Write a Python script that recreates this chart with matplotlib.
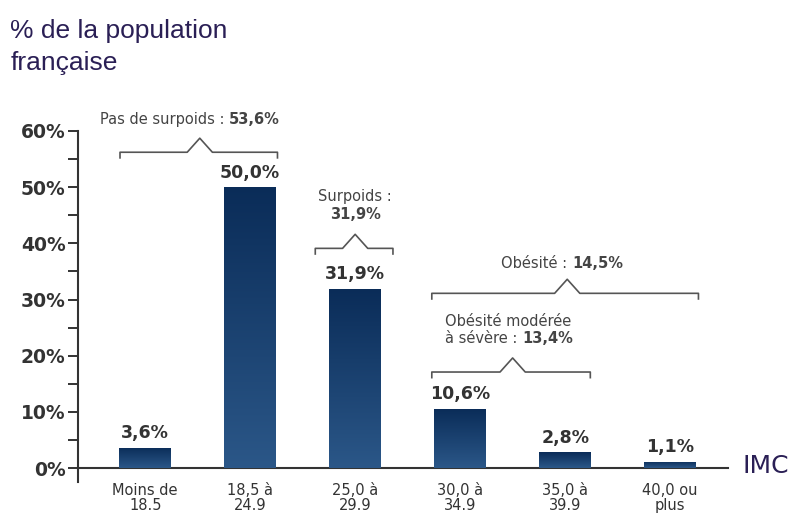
import numpy as np
import matplotlib
matplotlib.use("Agg")
import matplotlib.pyplot as plt
from matplotlib.colors import LinearSegmentedColormap

# IMC distribution, % de la population française
categories = ["Moins de\n18.5", "18,5 à\n24.9", "25,0 à\n29.9", "30,0 à\n34.9", "35,0 à\n39.9", "40,0 ou\nplus"]
values = [3.6, 50.0, 31.9, 10.6, 2.8, 1.1]
value_labels = ["3,6%", "50,0%", "31,9%", "10,6%", "2,8%", "1,1%"]
y_ticks = [0, 10, 20, 30, 40, 50, 60]
y_tick_labels = ["0%", "10%", "20%", "30%", "40%", "50%", "60%"]

# brackets: (x start, x end, x peak, y line, label regular, label bold)
groups = [
    (-0.24, 1.26, 0.52, 56.2, "Pas de surpoids : ", "53,6%"),
    (1.62, 2.36, 2.0, 39.1, "Surpoids :", "31,9%"),
    (2.73, 5.27, 4.02, 31.1, "Obésité : ", "14,5%"),
    (2.73, 4.24, 3.50, 17.1, "Obésité modérée\nà sévère : ", "13,4%"),
]

#---plot configuration---#
txt_col = "#333333"
title_col = "#2a1f55"
narrow = "DejaVu Sans"
bar_cmap = LinearSegmentedColormap.from_list("bar", ["#2b5788", "#0a2c58"])

fig = plt.figure(figsize=(7.92, 5.18), dpi=100)
ax = fig.add_axes([0.0985, 0.0637, 0.8205, 0.7433])

x = np.arange(len(values))
bars = ax.bar(x, values, width=0.49, color="#0a2c58", edgecolor="none", zorder=2)

# vertical gradient in each bar
grad = np.linspace(0, 1, 256).reshape(-1, 1)
for b in bars:
    x0, y0 = b.get_x(), b.get_y()
    im = ax.imshow(grad, cmap=bar_cmap, origin="lower", aspect="auto",
                   extent=[x0, x0 + b.get_width(), y0, y0 + b.get_height()], zorder=3)
    im.set_clip_path(b)

for xi, v, lab in zip(x, values, value_labels):
    ax.annotate(lab, (xi, v), xytext=(0, 4), textcoords="offset points",
                ha="center", va="bottom", fontsize=12.5, fontweight="bold",
                color=txt_col, family=narrow)

ax.set_xlim(-0.64, 5.55)
ax.set_ylim(-3, 65.5)

for s in ["top", "right"]:
    ax.spines[s].set_visible(False)
ax.spines["bottom"].set_position(("data", 0))
ax.spines["left"].set_bounds(-2.5, 60)
for s in ["left", "bottom"]:
    ax.spines[s].set_color(txt_col)
    ax.spines[s].set_linewidth(1.5)

ax.set_yticks(y_ticks)
ax.set_yticklabels(y_tick_labels)
ax.set_yticks(np.arange(5, 60, 10), minor=True)
ax.tick_params(axis="y", which="both", length=7, width=1.4, color=txt_col, pad=2)
plt.setp(ax.get_yticklabels(), fontsize=13.5, fontweight="bold", color=txt_col, family="DejaVu Sans")

ax.set_xticks(x)
ax.set_xticklabels(categories)
ax.tick_params(axis="x", length=0, pad=11)
plt.setp(ax.get_xticklabels(), fontsize=10.5, color=txt_col, family=narrow, linespacing=1.0)

# brackets
for xs, xe, xp, yl, lab, num in groups:
    bx = [xs, xs, xp - 0.12, xp, xp + 0.12, xe, xe]
    by = [yl - 1.0, yl, yl, yl + 2.5, yl, yl, yl - 1.0]
    ax.plot(bx, by, color="#555555", lw=1.2, clip_on=False, zorder=4)

def two_part(xt, yt, regular, bold):
    t1 = ax.text(xt, yt, regular, fontsize=10.5, color="#444444", family=narrow,
                 ha="left", va="baseline")
    ax.annotate(bold, xy=(1, 0), xycoords=t1, ha="left", va="bottom",
                fontsize=10.5, fontweight="bold", color="#444444", family=narrow)

# Pas de surpoids
two_part(-0.43, 61.2, groups[0][4], groups[0][5])
# Surpoids (two lines, centred)
ax.text(2.0, 47.6, groups[1][4], fontsize=10.5, color="#444444", family=narrow, ha="center", va="baseline")
ax.text(2.0, 44.4, groups[1][5], fontsize=10.5, fontweight="bold", color="#444444", family=narrow, ha="center", va="baseline")
# Obésité
two_part(3.39, 35.6, groups[2][4], groups[2][5])
# Obésité modérée
ax.text(2.86, 25.3, "Obésité modérée", fontsize=10.5, color="#444444", family=narrow, ha="left", va="baseline")
two_part(2.86, 22.2, "à sévère : ", groups[3][5])

fig.text(0.013, 0.927, "% de la population", fontsize=19, color=title_col, family="Liberation Sans", va="baseline")
fig.text(0.013, 0.865, "française", fontsize=19, color=title_col, family="Liberation Sans", va="baseline")
fig.text(0.937, 0.100, "IMC", fontsize=18, color=title_col, family=narrow, va="center")

fig.savefig("out.png", dpi=100)
